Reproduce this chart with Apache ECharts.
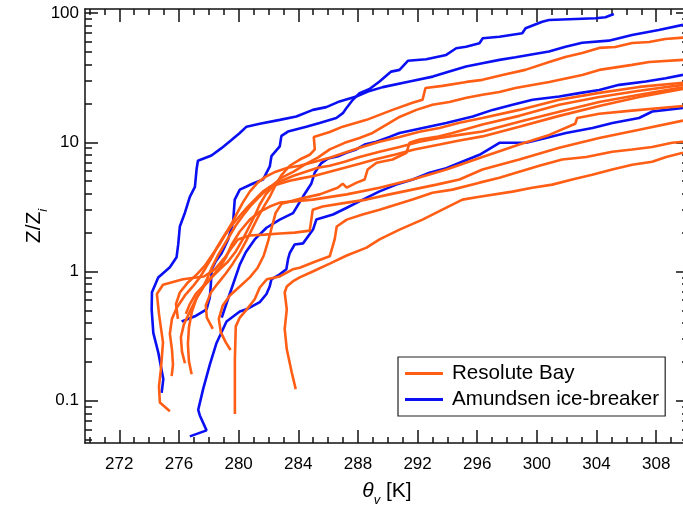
<!DOCTYPE html>
<html><head><meta charset="utf-8">
<script src="https://cdn.jsdelivr.net/npm/echarts@6/dist/echarts.min.js"></script>
<style>html,body{margin:0;padding:0;background:#fff}#c{width:683px;height:506px}</style>
</head><body><div id="c"></div>
<script>
const FONT = 'Liberation Sans, Arial, Helvetica, sans-serif';
const xRange = [269.7, 310.2];
const yRange = [0.0471, 107.4];
const xMajorTicks = [272, 276, 280, 284, 288, 292, 296, 300, 304, 308];
const xMinorTicks = [270, 271, 273, 274, 275, 277, 278, 279, 281, 282, 283, 285, 286, 287, 289, 290, 291, 293, 294, 295, 297, 298, 299, 301, 302, 303, 305, 306, 307, 309, 310];
const yMajorTicks = [0.1, 1, 10, 100];
const yMinorTicks = [0.05, 0.06, 0.07, 0.08, 0.09, 0.2, 0.3, 0.4, 0.5, 0.6, 0.7, 0.8, 0.9, 2, 3, 4, 5, 6, 7, 8, 9, 20, 30, 40, 50, 60, 70, 80, 90];

// Amundsen ice-breaker profiles [theta_v (K), Z/Zi]
const amundsen1 = [[274.84,0.115],[274.95,0.147],[274.61,0.237],[274.28,0.335],[274.17,0.51],[274.19,0.69],[274.61,0.90],[275.39,1.08],[275.84,1.29],[275.95,1.62],[276.06,2.23],[276.40,2.85],[276.73,3.78],[277.07,4.52],[277.18,6.15],[277.27,7.2],[278.18,7.9],[278.85,9.0],[279.52,10.4],[280.08,11.8],[280.53,13.2],[281.42,13.9],[282.76,14.9],[283.87,15.8],[284.98,17.8],[285.88,18.7],[286.77,20.7],[287.89,22.6],[288.67,24.7],[289.67,26.7],[291.46,29.5],[293.02,32.2],[294.13,35.2],[295.25,38.5],[296.34,40.9],[297.49,43.4],[298.57,45.5],[300.81,50.3],[301.92,54.9],[303.04,58.9],[304.82,61.1],[306.38,67.6],[308.17,73.9],[309.8,81]];
const amundsen2 = [[276.18,0.41],[277.07,0.45],[277.85,0.51],[278.07,0.63],[278.14,0.80],[278.2,1.04],[278.47,1.2],[278.85,1.38],[279.3,1.77],[279.63,2.4],[279.74,3.6],[280.08,4.3],[280.97,4.8],[281.64,5.15],[282.09,6.5],[282.2,7.8],[282.76,9.3],[282.87,11.2],[283.31,12.1],[284.54,13.2],[285.43,14.1],[286.55,15.4],[286.99,16.8],[287.22,18.3],[287.66,21.3],[288.11,24],[288.78,25.8],[289.45,29.5],[290.23,35.2],[290.79,36.3],[291.35,42.7],[292.58,43.9],[293.92,47.4],[294.59,53.4],[295.25,54.9],[296.15,58.4],[296.37,63.8],[297.49,65.6],[299.02,69.7],[299.24,76.2],[300.36,85.7],[300.81,88.3],[303.93,91],[304.6,92.6],[305.16,98.2]];
const amundsen3 = [[278.87,0.44],[279.28,0.61],[279.68,0.83],[280.08,1.13],[280.48,1.41],[281.08,1.77],[281.87,2.18],[282.76,2.52],[283.65,2.83],[284.32,3.8],[284.88,4.8],[285.1,5.8],[285.55,6.9],[286.0,7.5],[286.67,7.8],[287.22,8.3],[287.89,8.8],[288.45,9.6],[289.23,10.1],[290.12,11.0],[290.79,11.8],[292.35,12.9],[293.92,14.1],[295.7,15.8],[297.03,17.8],[298.37,19.5],[299.71,21.3],[301.5,22.6],[302.84,24],[304.18,25.4],[305.52,27.8],[307.3,29.5],[308.64,31.3],[309.8,33.2]];
const amundsen4 = [[276.73,0.053],[277.85,0.059],[277.4,0.077],[277.29,0.085],[277.62,0.123],[278.07,0.19],[278.52,0.28],[279.19,0.41],[280.08,0.49],[280.53,0.51],[281.42,0.58],[281.87,0.67],[282.09,0.77],[282.2,0.87],[282.76,0.95],[283.2,1.04],[283.31,1.24],[283.43,1.39],[283.76,1.62],[284.32,1.65],[284.99,2.11],[285.21,2.52],[286.33,2.76],[287.22,3.1],[288.33,3.6],[289.45,4.17],[290.57,4.7],[291.68,5.15],[292.8,5.8],[293.92,6.3],[295.03,7.1],[296.15,8.0],[297.49,9.9],[299.27,9.9],[300.61,10.8],[301.95,11.8],[303.73,12.9],[305.07,14.1],[306.85,15.4],[307.74,17.3],[308.64,17.8],[309.8,18.4]];

// Resolute Bay profiles [theta_v (K), Z/Zi]
const resolute1 = [[278.27,0.36],[277.87,0.44],[277.8,0.546],[278.14,0.688],[278.61,0.81],[279.14,0.965],[279.61,1.15],[280.08,1.40],[280.48,1.70],[280.88,2.11],[281.28,2.61],[281.69,3.18],[282.09,3.79],[282.49,4.7],[282.89,5.6],[283.43,6.58],[284.1,7.35],[284.77,8.0],[285.11,8.8],[285.04,11.0],[286.11,12.0],[286.98,13.2],[288.58,14.9],[290.32,17.8],[291.66,20.2],[292.33,21.3],[292.53,26.3],[293.67,27.3],[295.28,29.3],[296.35,30.4],[297.69,33.2],[299.22,36.3],[300.83,41.8],[301.9,45.7],[303.04,49.1],[304.18,53.7],[305.25,54.6],[306.39,58.6],[307.53,59.7],[308.6,63.0],[309.8,64.5]];
const resolute2 = [[276.4,0.195],[276.2,0.241],[276.13,0.31],[276.33,0.39],[276.73,0.49],[277.13,0.61],[277.54,0.73],[277.87,0.87],[278.2,1.07],[278.61,1.33],[279.01,1.59],[279.41,1.9],[279.81,2.27],[280.28,2.7],[280.88,3.3],[281.55,3.95],[282.22,4.61],[282.89,5.32],[283.69,5.92],[284.43,6.7],[285.31,7.6],[286.11,8.8],[287.11,9.9],[288.11,10.8],[288.98,11.8],[289.92,13.7],[290.79,15.7],[291.92,17.8],[293.0,19.5],[294.13,20.5],[295.28,22.1],[296.35,23.3],[297.49,24.5],[298.56,26.3],[300.83,29.3],[303.04,33.2],[304.18,36.3],[306.39,39.7],[307.53,41.8],[309.8,43.4]];
const resolute3 = [[275.51,0.155],[275.6,0.19],[275.53,0.25],[275.39,0.33],[275.53,0.43],[275.86,0.527],[276.4,0.653],[276.93,0.766],[277.4,0.90],[277.8,1.07],[278.2,1.28],[278.54,1.53],[278.87,1.77],[279.21,2.04],[279.54,2.35],[279.88,2.8],[280.28,3.41],[280.75,4.15],[281.28,4.87],[281.82,5.42],[282.49,5.92],[283.29,6.35],[284.1,6.58],[285.11,7.07],[286.11,7.6],[287.11,8.3],[288.11,9.07],[289.45,10.1],[290.79,11.0],[292.13,12.06],[293.47,12.9],[294.81,14.15],[296.35,15.4],[298.82,17.8],[301.5,21.3],[304.18,24.1],[306.86,26.8],[309.8,28.9]];
const resolute4 = [[279.46,0.247],[279.14,0.283],[278.81,0.338],[278.67,0.43],[278.94,0.546],[279.41,0.653],[280.08,0.766],[280.75,0.90],[281.28,1.07],[281.69,1.33],[281.95,1.67],[282.22,2.19],[282.49,2.85],[282.89,3.35],[284.1,3.66],[285.44,3.95],[286.64,4.45],[286.98,4.78],[287.25,4.45],[287.92,4.87],[288.45,5.15],[288.65,6.15],[289.25,6.94],[290.32,7.35],[291.26,8.3],[291.46,9.9],[292.13,10.5],[293.27,11.0],[294.34,11.8],[296.35,13.7],[298.82,16.0],[301.5,19.5],[304.18,22.4],[306.86,25.0],[309.8,27.8]];
const resolute5 = [[276.85,0.16],[276.67,0.202],[276.6,0.275],[276.67,0.37],[276.87,0.49],[277.2,0.63],[277.67,0.766],[278.2,0.90],[278.74,1.04],[279.28,1.19],[279.81,1.43],[280.28,1.77],[280.68,2.19],[281.08,2.7],[281.42,3.3],[281.82,3.95],[282.29,4.53],[282.89,5.04],[283.69,5.51],[284.5,5.92],[285.31,6.35],[286.11,6.58],[287.11,7.07],[288.11,7.7],[289.45,8.45],[290.79,9.2],[292.13,10.1],[293.47,10.8],[294.81,11.4],[296.35,12.1],[298.82,14.4],[301.5,17.2],[304.18,20.5],[306.86,23.3],[309.8,26.6]];
const resolute6 = [[275.93,0.43],[275.8,0.56],[276.06,0.688],[276.6,0.823],[277.2,0.95],[277.74,1.11],[278.2,1.33],[278.67,1.59],[279.07,1.9],[279.54,2.27],[280.08,2.7],[280.62,3.18],[281.15,3.66],[281.62,4.15],[282.09,4.53],[282.76,4.78],[283.43,5.04],[284.1,5.23],[285.11,5.51],[286.11,5.92],[287.11,6.35],[288.11,6.82],[289.12,7.35],[290.45,8.0],[291.79,8.8],[293.47,9.6],[294.81,10.3],[296.35,11.1],[298.82,13.2],[301.5,16.0],[304.18,19.1],[306.86,22.4],[309.8,25.9]];
const resolute7 = [[276.46,0.47],[276.73,0.56],[277.13,0.67],[277.67,0.78],[278.27,0.93],[278.74,1.07],[279.14,1.28],[279.54,1.62],[280.08,2.04],[280.75,2.52],[281.42,2.9],[282.09,3.18],[282.76,3.41],[284.97,3.6],[287.25,3.95],[289.45,4.45],[291.66,5.15],[293.93,6.15],[296.35,7.7],[298.82,9.6],[300.83,11.4],[302.57,13.9],[302.7,15.4],[304.18,16.6],[306.19,17.5],[309.8,19.1]];
const resolute8 = [[275.39,0.083],[274.72,0.097],[274.66,0.129],[274.79,0.175],[274.93,0.283],[274.66,0.47],[274.52,0.67],[274.93,0.79],[276.27,0.87],[277.67,0.915],[278.41,1.04],[279.07,1.28],[279.54,1.53],[279.95,1.77],[280.75,1.9],[281.75,1.93],[282.76,1.97],[283.76,2.0],[284.77,2.07],[284.97,3.0],[285.64,3.18],[287.25,3.41],[288.58,3.6],[290.12,3.95],[291.66,4.3],[293.27,4.7],[294.81,5.15],[296.35,6.15],[298.82,7.35],[301.5,9.07],[304.18,10.8],[306.86,12.5],[309.8,14.7]];
const resolute9 = [[279.75,0.079],[279.75,0.123],[279.75,0.21],[279.81,0.376],[280.08,0.44],[280.55,0.51],[281.08,0.61],[281.42,0.752],[281.89,0.87],[282.76,0.915],[283.63,1.04],[284.1,1.07],[285.11,1.19],[286.11,1.31],[286.44,1.77],[286.58,2.23],[287.25,2.52],[288.31,2.76],[289.45,3.0],[290.58,3.3],[291.66,3.6],[293.0,4.07],[294.34,4.3],[296.15,4.87],[297.49,5.32],[298.82,5.92],[300.16,6.58],[301.7,7.35],[303.31,7.7],[305.05,8.45],[306.39,8.8],[307.73,9.2],[309.07,9.9],[309.8,10.1]];
const resolute10 = [[283.83,0.123],[283.56,0.166],[283.23,0.25],[283.09,0.36],[283.23,0.51],[283.09,0.688],[283.23,0.766],[283.63,0.837],[284.1,0.90],[284.97,1.0],[286.11,1.15],[287.25,1.33],[288.58,1.53],[289.45,1.77],[290.79,2.11],[292.33,2.52],[293.93,3.12],[295.01,3.6],[296.15,3.79],[298.36,4.15],[299.69,4.45],[301.03,4.7],[302.37,5.15],[303.71,5.6],[305.05,6.15],[306.39,6.7],[307.73,7.07],[308.67,7.7],[309.8,8.3]];

const ORANGE = '#FF5E14';
const BLUE = '#0A10F2';
const NAME_RB = 'Resolute Bay';
const NAME_AM = 'Amundsen ice-breaker';

const blueLines = [amundsen1, amundsen2, amundsen3, amundsen4];
const orangeLines = [resolute1, resolute2, resolute3, resolute4, resolute5, resolute6, resolute7, resolute8, resolute9, resolute10];

function mk(name, data, color) {
  return {
    type: 'line', name: name, data: data, xAxisIndex: 0, yAxisIndex: 0,
    showSymbol: false, symbol: 'none', silent: true, smooth: false,
    lineStyle: { color: color, width: 2.6 }, itemStyle: { color: color },
    emphasis: { disabled: true }
  };
}
const series = [];
blueLines.forEach(d => series.push(mk(NAME_AM, d, BLUE)));
orangeLines.forEach(d => series.push(mk(NAME_RB, d, ORANGE)));

const AX = '#111';
function xAx(pos, ticks, len, main) {
  return {
    type: 'value', position: pos, min: xRange[0], max: xRange[1], gridIndex: 0,
    axisLine: { show: main, onZero: false, lineStyle: { color: AX, width: 1.5 } },
    axisTick: { show: true, inside: true, length: len, customValues: ticks, lineStyle: { color: AX, width: 1.5 } },
    axisLabel: { show: main && pos === 'bottom', customValues: xMajorTicks, fontSize: 17, color: '#000', fontFamily: FONT, margin: 13 },
    splitLine: { show: false }
  };
}
function yAx(pos, ticks, len, main) {
  return {
    type: 'log', logBase: 10, position: pos, min: yRange[0], max: yRange[1], gridIndex: 0,
    axisLine: { show: main, onZero: false, lineStyle: { color: AX, width: 1.5 } },
    axisTick: { show: true, inside: true, length: len, customValues: ticks, lineStyle: { color: AX, width: 1.5 } },
    axisLabel: {
      show: main && pos === 'left', customValues: yMajorTicks, fontSize: 17, color: '#000', fontFamily: FONT, margin: 6,
      formatter: function (v) {
        for (const t of yMajorTicks) { if (Math.abs(Math.log10(v) - Math.log10(t)) < 1e-6) return String(t); }
        return '';
      }
    },
    splitLine: { show: false }, minorTick: { show: false }
  };
}

const xAxes = [xAx('bottom', xMajorTicks, 13, true), xAx('bottom', xMinorTicks, 6, false), xAx('top', xMajorTicks, 13, true), xAx('top', xMinorTicks, 6, false)];
xAxes[0].name = '{t|θ}{s|v}{m| [K]}';
xAxes[0].nameLocation = 'middle';
xAxes[0].nameGap = 38;
xAxes[0].nameMoveOverlap = false;
xAxes[0].nameTextStyle = { fontFamily: FONT, color: '#000', rich: {
  t: { fontSize: 21, fontStyle: 'italic', fontFamily: FONT, lineHeight: 26, verticalAlign: 'top' },
  s: { fontSize: 13, fontStyle: 'italic', fontFamily: FONT, lineHeight: 14, verticalAlign: 'bottom' },
  m: { fontSize: 21, fontFamily: FONT, lineHeight: 26, verticalAlign: 'top' } } };

const yAxes = [yAx('left', yMajorTicks, 13, true), yAx('left', yMinorTicks, 7, false), yAx('right', yMajorTicks, 13, true), yAx('right', yMinorTicks, 7, false)];
yAxes[0].name = '{m|Z/Z}{s|i}';
yAxes[0].nameLocation = 'middle';
yAxes[0].nameRotate = 90;
yAxes[0].nameGap = 35;
yAxes[0].nameMoveOverlap = false;
yAxes[0].nameTextStyle = { fontFamily: FONT, color: '#000', rich: {
  m: { fontSize: 21, fontFamily: FONT, lineHeight: 26, verticalAlign: 'top' },
  s: { fontSize: 13, fontStyle: 'italic', fontFamily: FONT, lineHeight: 14, verticalAlign: 'bottom' } } };

const chart = echarts.init(document.getElementById('c'), null, { renderer: 'canvas' });
chart.setOption({
  animation: false,
  backgroundColor: '#fff',
  grid: { left: 85, top: 9, width: 604, height: 434, containLabel: false, outerBoundsMode: 'none' },
  xAxis: xAxes,
  yAxis: yAxes,
  legend: {
    data: [NAME_RB, NAME_AM], orient: 'vertical', left: 398, top: 357,
    padding: [6, 6, 6, 7], itemGap: 5, itemWidth: 38, itemHeight: 3, icon: 'rect',
    borderColor: '#222', borderWidth: 1.2, backgroundColor: '#fff', selectedMode: false,
    textStyle: { fontSize: 20.6, color: '#000', fontFamily: FONT, lineHeight: 20, padding: [0, 0, 0, 4] }
  },
  series: series
});
</script></body></html>
